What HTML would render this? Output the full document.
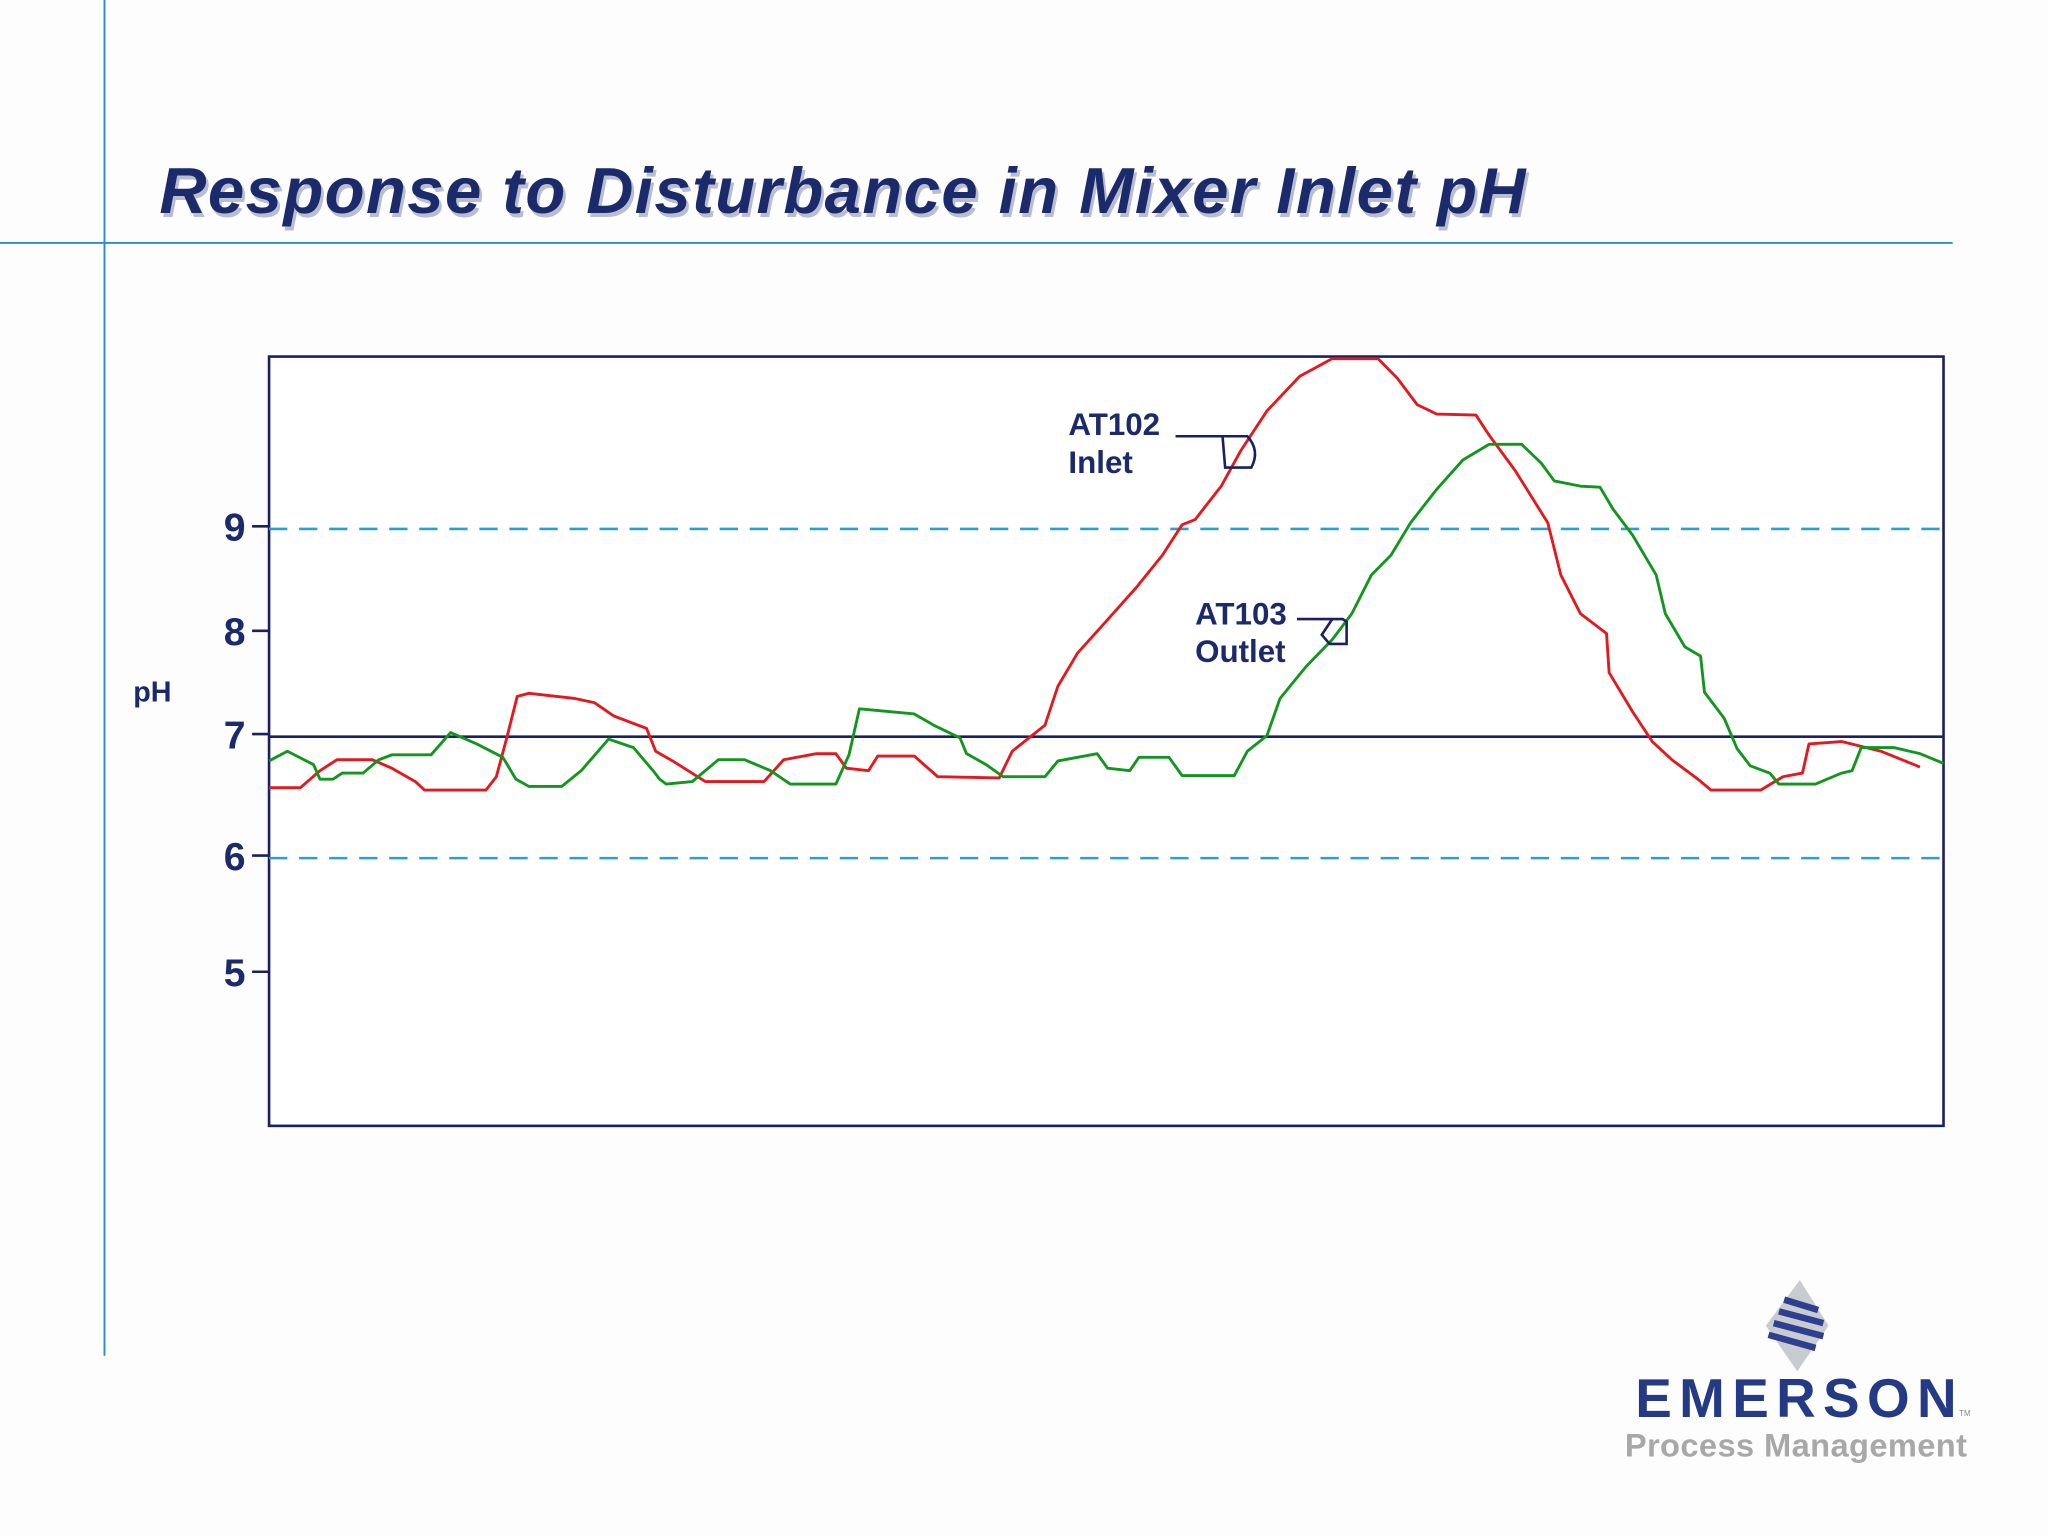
<!DOCTYPE html>
<html><head><meta charset="utf-8"><style>
html,body{margin:0;padding:0;background:#fdfdfd;}
svg{display:block;}
text{font-family:"Liberation Sans",sans-serif;}
</style></head><body>
<svg id="chart" width="2048" height="1536" viewBox="0 0 1568 1176" xmlns="http://www.w3.org/2000/svg">
<rect x="0" y="0" width="1568" height="1176" fill="#fdfdfd"/>
<line x1="80" y1="0" x2="80" y2="1038" stroke="#2a8fd0" stroke-width="1.5"/>
<line x1="0" y1="186" x2="1495" y2="186" stroke="#2a8fd0" stroke-width="1.5"/>
<text x="124" y="166" font-size="50" font-weight="bold" font-style="italic" fill="#b9bdd0" textLength="1046">Response to Disturbance in Mixer Inlet pH</text>
<text x="122" y="163" font-size="50" font-weight="bold" font-style="italic" fill="#1b2a6b" textLength="1046">Response to Disturbance in Mixer Inlet pH</text>

<rect x="206" y="273" width="1282" height="589" fill="#ffffff" stroke="#1b2060" stroke-width="2"/>
<g id="grid"></g>
<g id="axis"></g>
<g id="series"></g>
<text x="102" y="537" font-size="22" font-weight="bold" fill="#1b2a6b">pH</text>

<g>
<text x="818" y="333" font-size="24" font-weight="bold" fill="#1b2a6b">AT102</text>
<text x="818" y="362" font-size="24" font-weight="bold" fill="#1b2a6b">Inlet</text>
<path d="M900 334 H955 Q965 345 958 358 H938 L936 334" fill="none" stroke="#1b2060" stroke-width="2"/>
</g>
<g>
<text x="915" y="478" font-size="24" font-weight="bold" fill="#1b2a6b">AT103</text>
<text x="915" y="507" font-size="24" font-weight="bold" fill="#1b2a6b">Outlet</text>
<path d="M993 474 H1028 L1031 476 V493 H1018 L1012 486 L1020 474" fill="none" stroke="#1b2060" stroke-width="2"/>
</g>

<g>
<polygon points="1378,980 1400,1015 1376,1050 1352,1015" fill="#c8cbd0"/>
<path d="M1366 995 L1392 1003 M1362 1004 L1396 1013 M1358 1013 L1396 1023 M1354 1022 L1390 1032" stroke="#2d3f8f" stroke-width="5"/>
<text x="1252" y="1085" font-size="42" font-weight="bold" fill="#253a85" textLength="246">EMERSON</text>
<text x="1500" y="1084" font-size="6" fill="#888">TM</text>
<text x="1244" y="1115" font-size="25" font-weight="bold" fill="#a8a8a8" textLength="262">Process Management</text>
</g>
</svg>
<script>
const tickValues=[5,6,7,8,9];
const tickLabels=["5","6","7","8","9"];
const limitLines=[6,9];
const setpoint=7;
const timeRed=[0,24,39,52,79,94,112,119,166,174,182,190,199,234,249,264,289,296,309,334,379,394,419,434,442,459,466,494,512,559,569,594,604,619,639,664,684,699,709,729,744,764,789,814,849,864,879,894,924,934,954,979,989,1004,1024,1026,1044,1059,1074,1094,1104,1142,1159,1174,1179,1204,1234,1264];
const phRed=[6.58,6.58,6.72,6.81,6.81,6.74,6.63,6.56,6.56,6.67,6.99,7.39,7.42,7.37,7.33,7.20,7.08,6.88,6.80,6.63,6.63,6.81,6.86,6.86,6.74,6.72,6.84,6.84,6.67,6.66,6.88,7.11,7.49,7.81,8.09,8.44,8.75,9.04,9.09,9.41,9.75,10.13,10.46,10.63,10.63,10.44,10.19,10.10,10.09,9.90,9.56,9.06,8.56,8.19,8.0,7.62,7.24,6.96,6.81,6.65,6.56,6.56,6.67,6.70,6.94,6.96,6.88,6.75];
const timeGreen=[0,14,34,39,49,56,72,84,94,124,139,159,179,189,199,224,239,260,279,294,299,304,324,344,364,384,399,434,444,452,494,509,529,534,549,562,594,604,634,642,659,666,689,699,739,749,764,774,794,814,829,844,859,874,894,914,934,959,974,984,1004,1019,1029,1044,1062,1069,1084,1096,1099,1114,1124,1134,1149,1156,1184,1204,1212,1219,1244,1264,1282];
const phGreen=[6.80,6.88,6.77,6.65,6.65,6.70,6.70,6.81,6.85,6.85,7.04,6.94,6.83,6.65,6.59,6.59,6.72,6.98,6.91,6.72,6.65,6.61,6.63,6.81,6.81,6.72,6.61,6.61,6.85,7.27,7.22,7.11,6.99,6.86,6.77,6.67,6.67,6.80,6.86,6.74,6.72,6.83,6.83,6.68,6.68,6.88,7.01,7.37,7.68,7.94,8.19,8.56,8.75,9.06,9.38,9.66,9.81,9.81,9.63,9.46,9.41,9.40,9.19,8.94,8.56,8.19,7.87,7.78,7.43,7.18,6.90,6.76,6.70,6.61,6.61,6.70,6.72,6.91,6.91,6.86,6.78];

const NS="http://www.w3.org/2000/svg";
const tickPix=[746,657,564,485,405];
function y(v){
  if(v<=6) return tickPix[1]+(6-v)*(tickPix[0]-tickPix[1]);
  if(v>=9) return tickPix[4]-(v-9)*(tickPix[3]-tickPix[4]);
  const i=Math.floor(v)-5, f=v-Math.floor(v);
  return tickPix[i]+f*(tickPix[i+1]-tickPix[i]);
}
function x(t){return 206+t*(1282/1282);}
const grid=document.getElementById('grid');
limitLines.forEach(v=>{
  const l=document.createElementNS(NS,'line');
  l.setAttribute('x1',206);l.setAttribute('x2',1488);l.setAttribute('y1',y(v));l.setAttribute('y2',y(v));
  l.setAttribute('stroke','#2a9fd0');l.setAttribute('stroke-width','2');l.setAttribute('stroke-dasharray','14 9');
  
  
  grid.appendChild(l);
});
const sp=document.createElementNS(NS,'line');
sp.setAttribute('x1',206);sp.setAttribute('x2',1488);sp.setAttribute('y1',y(setpoint));sp.setAttribute('y2',y(setpoint));
sp.setAttribute('stroke','#1b2060');sp.setAttribute('stroke-width','2');


grid.appendChild(sp);
const axis=document.getElementById('axis');
tickValues.forEach((v,i)=>{
  const tk=document.createElementNS(NS,'line');
  tk.setAttribute('x1',193);tk.setAttribute('x2',206);tk.setAttribute('y1',y(v)-2);tk.setAttribute('y2',y(v)-2);
  tk.setAttribute('stroke','#1b2060');tk.setAttribute('stroke-width','2');
  
  
  axis.appendChild(tk);
  const tx=document.createElementNS(NS,'text');
  tx.setAttribute('x',188);tx.setAttribute('y',y(v)+9);tx.setAttribute('text-anchor','end');
  tx.setAttribute('font-size','30');tx.setAttribute('font-weight','bold');tx.setAttribute('fill','#1b2a6b');
  tx.textContent=tickLabels[i];
  
  
  axis.appendChild(tx);
});
const series=document.getElementById('series');
function draw(ts,vs,color,name){
  const p=document.createElementNS(NS,'polyline');
  p.setAttribute('points',ts.map((t,i)=>x(t)+','+y(vs[i])).join(' '));
  p.setAttribute('fill','none');p.setAttribute('stroke',color);p.setAttribute('stroke-width','2.2');p.setAttribute('stroke-linejoin','round');
  
  
  series.appendChild(p);
}
draw(timeRed,phRed,'#e3191e','at102-inlet-line');
draw(timeGreen,phGreen,'#12961e','at103-outlet-line');
</script>
</body></html>
